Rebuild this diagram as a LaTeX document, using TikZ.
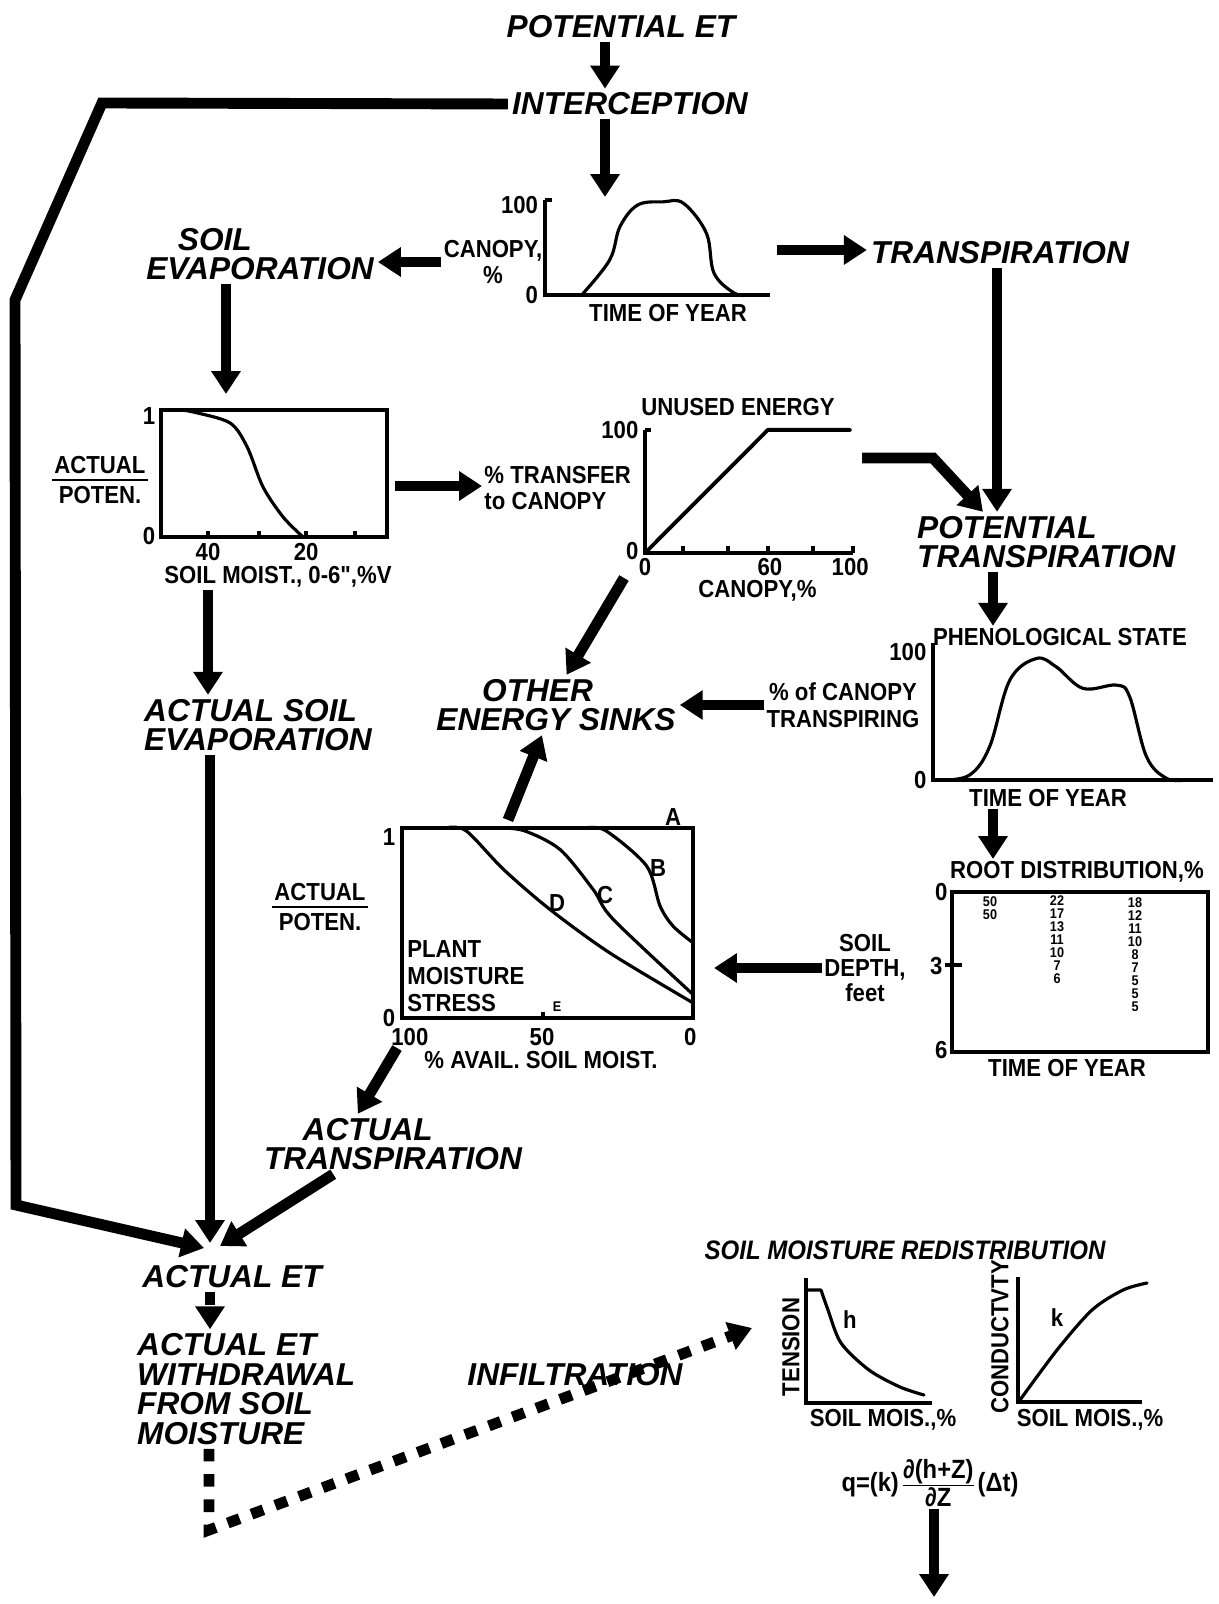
\documentclass[tikz,border=0pt]{standalone}
\usepackage{fontspec}
\setmainfont{Liberation Sans}
\newfontfamily\graphfont[FakeStretch=0.9]{Liberation Sans}
\usetikzlibrary{arrows.meta}

\begin{document}
\begin{tikzpicture}[x=0.01cm,y=-0.01cm,
    proc/.style={font=\bfseries\itshape\fontsize{9}{8.4}\selectfont,inner sep=1pt},
    lbl/.style={font=\graphfont\bfseries\fontsize{7}{7.6}\selectfont,inner sep=0.5pt},
    redlbl/.style={font=\graphfont\bfseries\itshape\fontsize{7.6}{8}\selectfont,inner sep=0.5pt},
    rootnum/.style={font=\graphfont\bfseries\fontsize{4}{3.7}\selectfont,inner sep=0pt,align=center},
    flow/.style={line width=3.1pt,-{Triangle[length=6.5pt,width=8pt]}},
    dflow/.style={flow,dash pattern=on 3.6pt off 3.6pt},
    axis/.style={line width=1.1pt},
    crv/.style={line width=0.9pt,line join=round,line cap=round}]
  \useasboundingbox (0,0) rectangle (1218,1604);

  \node[proc] (potet) at (621,27) {POTENTIAL ET};
  \node[proc] (intcp) at (630,104) {INTERCEPTION};
  \coordinate (ax1) at (605,0);
  \coordinate (cntop) at (605,197);
  \draw[flow] (potet.south -| ax1) -- (intcp.north -| ax1);
  \draw[flow] (intcp.south -| ax1) -- (cntop);

  \coordinate (lk1) at (102,103);
  \coordinate (lk2) at (15,300);
  \coordinate (lk3) at (16,1205);
  \coordinate (etl) at (204,1248);
  \coordinate (etv) at (210,1243);
  \coordinate (ett) at (220,1246);
  \draw[flow] (intcp.west) -- (lk1) -- (lk2) -- (lk3) -- (etl);

  \begin{scope}[shift={(545,295)},x=2.25cm,y=0.95cm]
    \draw[axis] (0,1) -- (0,0) -- (1,0);
    \draw[axis] (0,1) -- (0.03,1);
    \draw[crv] plot[smooth,tension=0.6] coordinates {(0.163,0) (0.287,0.368) (0.333,0.719) (0.412,0.947) (0.525,0.98) (0.615,0.965) (0.717,0.65) (0.751,0.228) (0.842,0.018) (0.9,0)};
    \node[lbl,anchor=east] at (-0.02,0.95) {100};
    \node[lbl,anchor=east] at (-0.02,0) {0};
  \end{scope}
  \node[lbl] (cntime) at (668,313) {TIME OF YEAR};
  \node[lbl,align=center] (cnpct) at (493,262) {CANOPY,\\\%};

  \node[proc,align=left] (soilev) at (260,254) {\hspace*{9pt}SOIL\\EVAPORATION};
  \draw[flow] (cnpct.west) -- (cnpct.west -| soilev.east);

  \node[proc] (transp) at (1000,253) {TRANSPIRATION};
  \coordinate (cnright) at (777,250);
  \draw[flow] (cnright) -- (cnright -| transp.west);

  \coordinate (sx) at (226,0);
  \coordinate (setop) at (226,394);
  \draw[flow] (soilev.south -| sx) -- (setop);

  \begin{scope}[shift={(161,537)},x=2.26cm,y=1.27cm]
    \draw[axis] (0,0) rectangle (1,1);
    \foreach \tk in {0.208,0.434,0.642,0.858} \draw[axis] (\tk,0) -- (\tk,0.05);
    \draw[crv] plot[smooth] coordinates {(0.08,1) (0.142,0.984) (0.305,0.898) (0.381,0.709) (0.451,0.394) (0.54,0.157) (0.628,0)};
    \node[lbl,anchor=east] at (-0.015,0.95) {1};
    \node[lbl,anchor=east] at (-0.015,0.01) {0};
    \node[lbl] at (0.208,-0.12) {40};
    \node[lbl] at (0.642,-0.12) {20};
  \end{scope}
  \node[lbl] (semoist) at (278,577) {SOIL MOIST., 0-6",\%V};
  \node[lbl,align=center] (seratio) at (100,480) {ACTUAL\\[1pt]POTEN.};
  \draw[line width=0.8pt] (seratio.west) -- (seratio.east);

  \node[lbl,align=left,anchor=west] (xfer) at (482,488) {\% TRANSFER\\to CANOPY};
  \coordinate (seright) at (395,486);
  \draw[flow] (seright) -- (seright -| xfer.west);

  \begin{scope}[shift={(645,553)},x=2.08cm,y=1.23cm]
    \draw[axis] (0,1) -- (0,0) -- (1,0);
    \draw[axis] (0,1) -- (0.03,1);
    \foreach \tk in {0.183,0.399,0.591,0.808,1} \draw[axis] (\tk,0) -- (\tk,0.06);
    \draw[crv,line width=1.1pt] (0,0) -- (0.59,1) -- (0.986,1);
    \node[lbl,anchor=east] at (-0.02,1) {100};
    \node[lbl,anchor=east] at (-0.02,0.02) {0};
    \node[lbl] at (0,-0.115) {0};
    \node[lbl] at (0.6,-0.115) {60};
    \node[lbl] at (0.986,-0.115) {100};
    \node[lbl] (unused) at (0.447,1.187) {UNUSED ENERGY};
    \node[lbl] (uecan) at (0.54,-0.31) {CANOPY,\%};
  \end{scope}

  \node[proc,align=left,anchor=west] (pottr) at (913,542) {POTENTIAL\\TRANSPIRATION};
  \coordinate (tx) at (997,0);
  \draw[flow] (transp.south -| tx) -- (tx |- pottr.north);
  \coordinate (bent0) at (862,458);
  \coordinate (bent1) at (933,458);
  \draw[flow] (bent0) -- (bent1) -- ([xshift=-4pt]tx |- pottr.north);

  \node[lbl] (phen) at (1060,637) {PHENOLOGICAL STATE};
  \coordinate (px) at (993,0);
  \draw[flow] (pottr.south -| px) -- (px |- phen.north);
  \begin{scope}[shift={(933,780)},x=2.8cm,y=1.33cm]
    \draw[axis] (0,1.03) -- (0,0) -- (1,0);
    \draw[crv] plot[smooth,tension=0.6] coordinates {(0.036,0) (0.131,0.038) (0.202,0.25) (0.274,0.75) (0.369,0.913) (0.44,0.85) (0.536,0.688) (0.655,0.713) (0.702,0.625) (0.762,0.175) (0.833,0.013) (0.9,0)};
    \node[lbl,anchor=east] at (-0.015,0.96) {100};
    \node[lbl,anchor=east] at (-0.015,0) {0};
  \end{scope}
  \node[lbl] (phtime) at (1048,798) {TIME OF YEAR};

  \node[lbl] (root) at (1077,872) {ROOT DISTRIBUTION,\%};
  \draw[flow] (phtime.south -| px) -- (px |- root.north);
  \draw[axis] (952,892) rectangle (1208,1052);
  \draw[axis] (945,965) -- (962,965);
  \node[lbl,anchor=east] at (950,892) {0};
  \node[lbl,anchor=east] at (945,966) {3};
  \node[lbl,anchor=east] at (950,1050) {6};
  \node[rootnum] (rc1) at (990,908) {50\\50};
  \node[rootnum] (rc2) at (1057,940) {22\\17\\13\\11\\10\\7\\6};
  \node[rootnum] (rc3) at (1135,955) {18\\12\\11\\10\\8\\7\\5\\5\\5};
  \node[lbl] (rttime) at (1067,1068) {TIME OF YEAR};

  \node[lbl,align=center] (sdepth) at (865,968) {SOIL\\[-0.6pt]DEPTH,\\[-0.6pt]feet};
  \coordinate (psin) at (714,968);
  \draw[flow] (sdepth.west) -- (psin);

  \node[proc,align=left] (oes) at (556,705) {\hspace*{13pt}OTHER\\ENERGY SINKS};
  \coordinate (uesink) at (624,578);
  \draw[flow] (uesink) -- ([xshift=3pt]oes.north);
  \node[lbl,align=center] (pctcan) at (843,705) {\% of CANOPY\\TRANSPIRING};
  \draw[flow] (pctcan.west) -- (pctcan.west -| oes.east);
  \coordinate (psup) at (508,820);
  \draw[flow] (psup) -- ([xshift=-4pt]oes.south);

  \begin{scope}[shift={(402,1018)},x=2.91cm,y=1.9cm]
    \draw[axis] (0,0) rectangle (1,1);
    \draw[crv] plot[smooth] coordinates {(0.15,1) (0.22,0.985) (0.349,0.781) (0.509,0.57) (0.714,0.342) (1,0.079)};
    \draw[crv] plot[smooth] coordinates {(0.33,1) (0.42,0.985) (0.543,0.886) (0.657,0.675) (0.726,0.518) (1,0.123)};
    \draw[crv] plot[smooth] coordinates {(0.63,1) (0.7,0.985) (0.84,0.8) (0.886,0.59) (0.931,0.483) (1,0.395)};
    \draw[axis] (0.485,0) -- (0.485,0.03);
    \node[lbl] at (0.931,1.055) {A};
    \node[lbl] at (0.88,0.79) {B};
    \node[lbl] at (0.698,0.647) {C};
    \node[lbl] at (0.533,0.605) {D};
    \node[rootnum] at (0.533,0.06) {E};
    \node[lbl,anchor=east] at (-0.015,0.953) {1};
    \node[lbl,anchor=east] at (-0.015,0) {0};
    \node[lbl] at (0.027,-0.1) {100};
    \node[lbl] at (0.481,-0.1) {50};
    \node[lbl] at (0.99,-0.1) {0};
    \node[lbl,align=left,anchor=west] (pms) at (0.01,0.221) {PLANT\\MOISTURE\\STRESS};
  \end{scope}
  \node[lbl] (avail) at (541,1060) {\% AVAIL. SOIL MOIST.};
  \node[lbl,align=center] (psratio) at (320,907) {ACTUAL\\[1pt]POTEN.};
  \draw[line width=0.8pt] (psratio.west) -- (psratio.east);

  \node[proc,align=left,anchor=west] (ase) at (140,725) {ACTUAL SOIL\\EVAPORATION};
  \coordinate (ex) at (208,0);
  \draw[flow] (semoist.south -| ex) -- (ex |- ase.north);
  \draw[flow] (ase.south -| etv) -- (etv);

  \node[proc,align=left] (atr) at (393,1144) {\hspace*{11pt}ACTUAL\\TRANSPIRATION};
  \coordinate (psdown) at (397,1048);
  \draw[flow] (psdown) -- ([xshift=-10pt]atr.north);
  \draw[flow] ([xshift=-17pt]atr.south) -- (ett);

  \node[proc] (aet) at (232,1277) {ACTUAL ET};
  \node[proc,align=left,anchor=west] (aw) at (133,1389) {ACTUAL ET\\WITHDRAWAL\\FROM SOIL\\MOISTURE};
  \draw[dflow] (aet.south -| etv) -- (etv |- aw.north);
  \coordinate (dcorner) at (209,1530);
  \coordinate (infend) at (752,1328);
  \draw[dflow] (aw.south -| dcorner) -- (dcorner) -- (infend);
  \node[proc] (infil) at (575,1375) {INFILTRATION};

  \node[redlbl] (redis) at (905,1250) {SOIL MOISTURE REDISTRIBUTION};
  \draw[axis] (806,1278) -- (806,1403) -- (932,1403);
  \draw[crv] (807,1290) -- (821,1290) plot[smooth] coordinates {(821,1290) (828,1310) (841,1343) (869,1370) (900,1387) (924,1395)};
  \node[lbl,rotate=90] (tens) at (791,1347) {TENSION};
  \node[lbl] at (850,1320) {h};
  \node[lbl] (tmois) at (883,1420) {SOIL MOIS.,\%};
  \draw[axis] (1018,1277) -- (1018,1402) -- (1142,1402);
  \draw[crv] plot[smooth] coordinates {(1020,1400) (1057,1350) (1092,1310) (1123,1290) (1147,1283)};
  \node[lbl,rotate=90] (cond) at (1000,1337) {CONDUCTVTY};
  \node[lbl] at (1057,1318) {k};
  \node[lbl] (cmois) at (1090,1420) {SOIL MOIS.,\%};

  \node[lbl,font=\graphfont\bfseries\fontsize{7.5}{8}\selectfont] (darcy) at (930,1483) {q=(k)$\frac{\mbox{∂(h+Z)}}{\mbox{∂Z}}$(Δt)};
  \coordinate (dx) at (934,0);
  \coordinate (dend) at (934,1597);
  \draw[flow] (darcy.south -| dx) -- (dend);
\end{tikzpicture}
\end{document}
